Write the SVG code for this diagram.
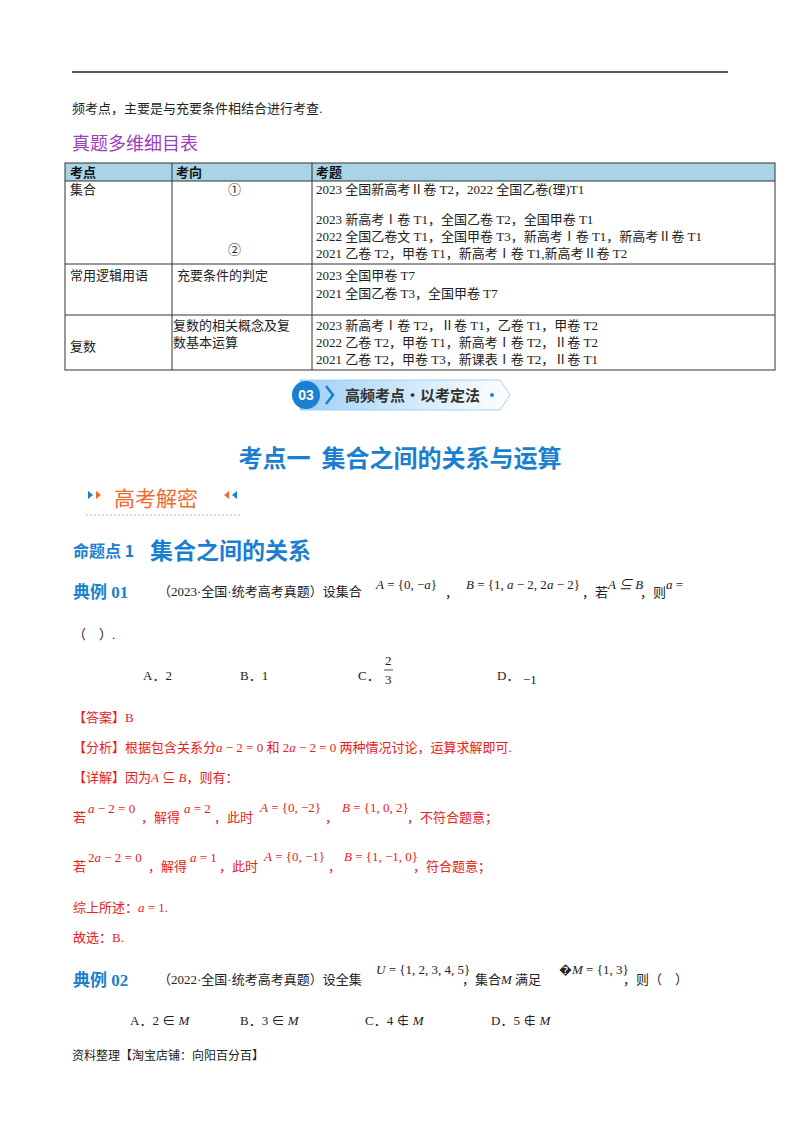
<svg xmlns="http://www.w3.org/2000/svg" width="800" height="1132" viewBox="0 0 800 1132">
<defs>
<style>
.t{font-family:"Liberation Serif","Noto Sans CJK SC",serif;font-size:13px;fill:#222}
.r{font-family:"Liberation Serif","Noto Sans CJK SC",serif;font-size:13px;fill:#e8201c}
.h{font-family:"Noto Sans CJK SC",sans-serif;font-weight:bold;fill:#1a7fd0}
.g{stroke:#333;stroke-width:1;fill:none}
</style>
<linearGradient id="bn" x1="0" x2="1"><stop offset="0" stop-color="#9fd0f5"/><stop offset="1" stop-color="#ffffff"/></linearGradient>
</defs>
<rect width="800" height="1132" fill="#fff"/>
<line x1="72" y1="72" x2="728" y2="72" stroke="#222" stroke-width="1.5"/>
<text class="t" x="72" y="113">频考点，主要是与充要条件相结合进行考查.</text>
<text x="72" y="150" style="font-family:'Noto Sans CJK SC',sans-serif;font-size:18px;fill:#9a3fc0">真题多维细目表</text>
<g id="table">
<rect x="65" y="163" width="710" height="18" fill="#a8d4e6"/>
<rect x="65" y="163" width="710" height="207" class="g"/>
<line x1="65" y1="181" x2="775" y2="181" class="g"/>
<line x1="65" y1="264" x2="775" y2="264" class="g"/>
<line x1="65" y1="315" x2="775" y2="315" class="g"/>
<line x1="172" y1="163" x2="172" y2="370" class="g"/>
<line x1="312" y1="163" x2="312" y2="370" class="g"/>
<g style="font-family:'Noto Sans CJK SC',sans-serif;font-weight:bold;font-size:13px;fill:#111"><text x="70" y="177">考点</text><text x="176" y="177">考向</text><text x="316" y="177">考题</text></g>
<text class="t" x="70" y="194">集合</text>
<text class="t" x="228" y="194">①</text>
<text class="t" x="228" y="254">②</text>
<text class="t" x="316" y="194">2023 全国新高考Ⅱ卷 T2，2022 全国乙卷(理)T1</text>
<text class="t" x="316" y="224">2023 新高考Ⅰ卷 T1，全国乙卷 T2，全国甲卷 T1</text>
<text class="t" x="316" y="241">2022 全国乙卷文 T1，全国甲卷 T3，新高考Ⅰ卷 T1，新高考Ⅱ卷 T1</text>
<text class="t" x="316" y="258">2021 乙卷 T2，甲卷 T1，新高考Ⅰ卷 T1,新高考Ⅱ卷 T2</text>
<text class="t" x="70" y="280">常用逻辑用语</text>
<text class="t" x="177" y="280">充要条件的判定</text>
<text class="t" x="316" y="280">2023 全国甲卷 T7</text>
<text class="t" x="316" y="298">2021 全国乙卷 T3，全国甲卷 T7</text>
<text class="t" x="70" y="351">复数</text>
<text class="t" x="173" y="330">复数的相关概念及复</text>
<text class="t" x="173" y="347">数基本运算</text>
<text class="t" x="316" y="330">2023 新高考Ⅰ卷 T2，Ⅱ卷 T1，乙卷 T1，甲卷 T2</text>
<text class="t" x="316" y="347">2022 乙卷 T2，甲卷 T1，新高考Ⅰ卷 T2，Ⅱ卷 T2</text>
<text class="t" x="316" y="364">2021 乙卷 T2，甲卷 T3，新课表Ⅰ卷 T2，Ⅱ卷 T1</text>
</g>
<g id="banner">
<path d="M300 380 H500 L510 395 L500 410 H300 Z" fill="url(#bn)" stroke="#9fd0f5"/>
<circle cx="306" cy="395" r="14" fill="#1a7fd0"/>
<text x="306" y="400" text-anchor="middle" style="font-family:'Liberation Sans',sans-serif;font-weight:bold;font-size:14px;fill:#fff">03</text>
<path d="M326 386 L333 395 L326 404" stroke="#1a7fd0" stroke-width="2.5" fill="none"/>
<text x="345" y="401" style="font-family:'Noto Sans CJK SC',sans-serif;font-weight:bold;font-size:15px;fill:#333">高频考点•以考定法</text>
<circle cx="492" cy="395" r="2" fill="#1a7fd0"/>
</g>
<text class="h" x="400" y="467" text-anchor="middle" font-size="24" xml:space="preserve">考点一  集合之间的关系与运算</text>
<g id="jm">
<path d="M88 491 l5 4 -5 4z" fill="#1a7fd0"/>
<path d="M96 491 l5 4 -5 4z" fill="#f06a2a"/>
<text x="114" y="506" style="font-family:'Noto Sans CJK SC',sans-serif;font-size:21px;fill:#f06a2a">高考解密</text>
<path d="M229 491 l-5 4 5 4z" fill="#f06a2a"/><path d="M237 491 l-5 4 5 4z" fill="#1a7fd0"/>
<line x1="86" y1="515" x2="240" y2="515" stroke="#bbb" stroke-dasharray="2,2"/>
</g>
<text class="h" x="73" y="557" font-size="16">命题点 1</text>
<text class="h" x="150" y="559" font-size="23">集合之间的关系</text>
<text class="h" x="73" y="598" font-size="17" style="font-family:'Liberation Serif','Noto Sans CJK SC',serif">典例 01</text>
<text class="t" x="158" y="596">（2023·全国·统考高考真题）设集合</text>
<text class="t" x="376" y="589" font-size="12"><tspan font-style="italic">A</tspan> = {0, −<tspan font-style="italic">a</tspan>}</text>
<text class="t" x="445" y="597">，</text>
<text class="t" x="466" y="589" font-size="11.5"><tspan font-style="italic">B</tspan> = {1, <tspan font-style="italic">a</tspan> − 2, 2<tspan font-style="italic">a</tspan> − 2}</text>
<text class="t" x="582" y="597">，若</text>
<text class="t" x="608" y="589" font-size="12" font-style="italic">A ⊆ B</text>
<text class="t" x="640" y="597">，则</text>
<text class="t" x="666" y="589" font-size="12"><tspan font-style="italic">a</tspan> =</text>
<text class="t" x="73" y="639">（　）.</text>
<text class="t" x="143" y="680">A．2</text>
<text class="t" x="240" y="680">B．1</text>
<text class="t" x="358" y="680">C．</text>
<text class="t" x="385" y="665" font-size="12">2</text>
<line x1="384" y1="670" x2="393" y2="670" stroke="#222" stroke-width="0.8"/>
<text class="t" x="385" y="684" font-size="12">3</text>
<text class="t" x="497" y="680">D．</text>
<text class="t" x="523" y="684" font-size="10">−1</text>
<text class="r" x="73" y="722">【答案】B</text>
<text class="r" x="73" y="752">【分析】根据包含关系分<tspan font-style="italic">a</tspan> − 2 = 0 和 2<tspan font-style="italic">a</tspan> − 2 = 0 两种情况讨论，运算求解即可.</text>
<text class="r" x="73" y="782">【详解】因为<tspan font-style="italic">A</tspan> ⊆ <tspan font-style="italic">B</tspan>，则有：</text>
<text class="r" x="73" y="822">若</text><text class="r" x="88" y="813"><tspan font-style="italic">a</tspan> − 2 = 0</text>
<text class="r" x="141" y="822">，解得</text><text class="r" x="184" y="813"><tspan font-style="italic">a</tspan> = 2</text>
<text class="r" x="214" y="822">，此时</text><text class="r" x="260" y="812"><tspan font-style="italic">A</tspan> = {0, −2}</text>
<text class="r" x="325" y="822">，</text><text class="r" x="342" y="812"><tspan font-style="italic">B</tspan> = {1, 0, 2}</text>
<text class="r" x="407" y="822">，不符合题意；</text>
<text class="r" x="73" y="871">若</text><text class="r" x="88" y="862">2<tspan font-style="italic">a</tspan> − 2 = 0</text>
<text class="r" x="148" y="871">，解得</text><text class="r" x="190" y="862"><tspan font-style="italic">a</tspan> = 1</text>
<text class="r" x="219" y="871">，此时</text><text class="r" x="264" y="861"><tspan font-style="italic">A</tspan> = {0, −1}</text>
<text class="r" x="328" y="871">，</text><text class="r" x="344" y="861"><tspan font-style="italic">B</tspan> = {1, −1, 0}</text>
<text class="r" x="413" y="871">，符合题意；</text>
<text class="r" x="73" y="912">综上所述：<tspan font-style="italic">a</tspan> = 1.</text>
<text class="r" x="73" y="942">故选：B.</text>
<text class="h" x="73" y="986" font-size="17" style="font-family:'Liberation Serif','Noto Sans CJK SC',serif">典例 02</text>
<text class="t" x="158" y="984">（2022·全国·统考高考真题）设全集</text>
<text class="t" x="376" y="974" font-size="11"><tspan font-style="italic">U</tspan> = {1, 2, 3, 4, 5}</text>
<text class="t" x="462" y="984">，集合<tspan font-style="italic">M</tspan> 满足</text>
<text class="t" x="559" y="974" font-size="11">�<tspan font-style="italic">M</tspan> = {1, 3}</text>
<text class="t" x="623" y="984">，则（　）</text>
<text class="t" x="130" y="1025">A．2 ∈ <tspan font-style="italic">M</tspan></text>
<text class="t" x="240" y="1025">B．3 ∈ <tspan font-style="italic">M</tspan></text>
<text class="t" x="365" y="1025">C．4 ∉ <tspan font-style="italic">M</tspan></text>
<text class="t" x="491" y="1025">D．5 ∉ <tspan font-style="italic">M</tspan></text>
<text class="t" x="72" y="1060" style="font-family:'Noto Sans CJK SC',sans-serif;font-size:12px">资料整理【淘宝店铺：向阳百分百】</text>
</svg>
